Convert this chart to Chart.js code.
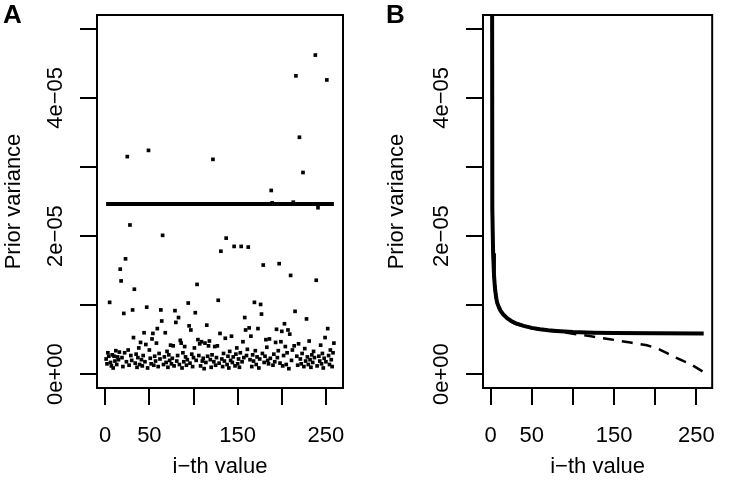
<!DOCTYPE html>
<html>
<head>
<meta charset="utf-8">
<title>Prior variance</title>
<script src="https://cdn.jsdelivr.net/npm/chart.js@4.4.1/dist/chart.umd.min.js"></script>
<style>
  html, body { margin: 0; padding: 0; background: #fff; }
  #wrap { position: relative; width: 733px; height: 481px; }
  #panelA { position: absolute; left: 0; top: 0; }
  #panelB { position: absolute; left: 386px; top: 0; }
</style>
</head>
<body>
<div id="wrap">
  <canvas id="panelA" width="386" height="481"></canvas>
  <canvas id="panelB" width="347" height="481"></canvas>
</div>
<script>
// all variances are in units of 1e-05

const xTicks = [0, 50, 100, 150, 200, 250];
const xTickLabels = ['0', '50', '', '150', '', '250'];
const yTicks = [0, 1, 2, 3, 4, 5];
const yTickLabels = ['0e+00', '', '2e\u221205', '', '4e\u221205', ''];

// panel A: prior variance of each of the 259 values
const priorA = [
  0.22, 0.15, 0.31, 0.26, 1.04, 0.17, 0.12, 0.28, 0.09, 0.26,
  0.19, 0.34, 0.14, 0.25, 0.21, 0.32, 1.52, 1.35, 0.24, 0.11,
  0.88, 0.31, 1.67, 0.18, 3.15, 0.35, 0.13, 2.16, 0.27, 0.20,
  0.93, 0.53, 1.23, 0.16, 0.29, 0.10, 0.24, 0.38, 0.14, 0.46,
  0.21, 0.12, 0.27, 0.60, 0.18, 0.43, 0.97, 0.09, 3.24, 0.35,
  0.23, 0.15, 0.51, 0.59, 0.13, 0.26, 0.19, 0.45, 0.66, 0.11,
  0.30, 0.22, 0.93, 0.77, 2.01, 0.14, 0.25, 0.60, 0.17, 0.33,
  0.10, 0.28, 0.20, 0.42, 0.15, 0.23, 0.41, 0.12, 0.92, 0.75,
  0.19, 0.27, 0.82, 0.14, 0.49, 0.45, 0.09, 0.31, 0.18, 0.40,
  0.25, 0.13, 0.21, 1.03, 0.70, 0.16, 0.64, 0.29, 0.11, 0.24,
  0.38, 0.89, 0.20, 1.30, 0.50, 0.27, 0.44, 0.12, 0.47, 0.19,
  0.23, 0.08, 0.45, 0.17, 0.71, 0.26, 0.41, 0.48, 0.21, 0.10,
  0.28, 3.11, 0.18, 0.40, 0.13, 0.24, 0.41, 1.07, 0.16, 0.59,
  1.78, 0.22, 0.11, 0.30, 0.19, 0.52, 1.97, 0.14, 0.26, 0.09,
  0.33, 0.20, 0.55, 0.17, 0.25, 1.85, 0.12, 0.29, 0.38, 0.15,
  0.22, 0.10, 0.31, 1.85, 0.18, 0.47, 0.24, 0.82, 0.64, 0.27,
  0.36, 1.84, 0.67, 0.21, 0.55, 0.11, 0.28, 0.19, 1.04, 0.34,
  0.14, 0.25, 0.66, 0.09, 0.22, 1.01, 0.87, 0.30, 1.58, 0.17,
  0.26, 0.50, 0.39, 0.20, 0.15, 0.51, 0.23, 2.66, 2.48, 0.13,
  0.29, 0.18, 0.46, 0.65, 0.24, 0.34, 1.60, 0.16, 0.47, 0.62,
  0.12, 0.27, 0.73, 0.40, 0.14, 0.31, 0.64, 0.08, 0.58, 1.43,
  0.20, 0.35, 2.49, 0.41, 0.91, 4.32, 0.26, 0.13, 0.44, 3.43,
  0.22, 0.15, 0.30, 2.92, 0.11, 0.37, 0.19, 0.80, 0.25, 0.14,
  0.48, 0.21, 0.10, 0.28, 0.17, 0.33, 0.24, 4.62, 1.36, 0.12,
  2.41, 0.26, 0.19, 0.42, 0.15, 0.30, 0.09, 0.23, 0.53, 0.18,
  4.26, 0.66, 0.27, 0.14, 0.35, 0.21, 0.11, 0.31, 0.45
];
const meanA = 2.465;

// panel B: solid and dashed curves (index, value)
const solidIdx = [1, 2, 3, 4, 5, 6, 7, 8, 10, 12, 15, 20, 25, 30, 40, 50, 60, 70, 80, 100, 125, 150, 200, 259];
const solidB = [15, 2.4, 1.75, 1.45, 1.28, 1.17, 1.09, 1.03, 0.97, 0.92, 0.87, 0.81, 0.77, 0.74, 0.70, 0.67, 0.65, 0.635, 0.625, 0.61, 0.60, 0.595, 0.592, 0.59];
const dashedIdx = [1, 2, 3, 4, 5, 6, 7, 8, 10, 12, 15, 20, 25, 30, 40, 50, 60, 70, 80, 90, 100, 120, 145, 170, 190, 205, 215, 225, 243, 259];
const dashedB = [15, 2.3, 1.65, 1.38, 1.22, 1.13, 1.06, 1.01, 0.95, 0.91, 0.86, 0.80, 0.76, 0.73, 0.69, 0.665, 0.645, 0.63, 0.62, 0.605, 0.585, 0.553, 0.506, 0.458, 0.419, 0.36, 0.30, 0.24, 0.145, 0.03];

const nValues = 259;
const xMin = 1 - 0.04 * (nValues - 1);
const xMax = nValues + 0.04 * (nValues - 1);
const FONT = '"Liberation Sans", Arial, Helvetica, sans-serif';

// frame around the plot region, like R's box()
const boxPlugin = {
  id: 'box',
  afterDatasetsDraw(chart) {
    const { ctx, chartArea: a } = chart;
    ctx.save();
    ctx.strokeStyle = '#000';
    ctx.lineWidth = 2;
    ctx.strokeRect(a.left, a.top, a.right - a.left, a.bottom - a.top);
    ctx.restore();
  }
};

function buildScales(yWidth) {
  return {
    x: {
      type: 'linear',
      min: xMin,
      max: xMax,
      afterBuildTicks: s => { s.ticks = xTicks.map(v => ({ value: v })); },
      afterFit: s => { s.height = 93; },
      border: { display: false },
      grid: { drawOnChartArea: false, drawTicks: true, tickLength: 17, lineWidth: 2, color: '#000' },
      ticks: {
        autoSkip: false, maxRotation: 0, padding: 18, color: '#000',
        font: { family: FONT, size: 22 },
        callback: (v, i) => xTickLabels[i]
      },
      title: {
        display: true, text: 'i\u2212th value', color: '#000',
        font: { family: FONT, size: 22 }, padding: { top: 0, bottom: 1 }
      }
    },
    y: {
      type: 'linear',
      min: -0.2,
      max: 5.2,
      afterBuildTicks: s => { s.ticks = yTicks.map(v => ({ value: v })); },
      afterFit: s => { s.width = yWidth; },
      border: { display: false },
      grid: { drawOnChartArea: false, drawTicks: true, tickLength: 17, lineWidth: 2, color: '#000' },
      ticks: {
        autoSkip: false, minRotation: 90, maxRotation: 90, crossAlign: 'center',
        padding: -7, color: '#000',
        font: { family: FONT, size: 22 },
        callback: (v, i) => yTickLabels[i]
      },
      title: {
        display: true, text: 'Prior variance', color: '#000',
        font: { family: FONT, size: 22 }, padding: { top: -2, bottom: 0 }
      }
    }
  };
}

function buildOptions(letter, padLeft, padRight, yWidth) {
  return {
    responsive: false,
    animation: false,
    events: [],
    layout: { padding: { left: padLeft, right: padRight, top: 0, bottom: 0 } },
    plugins: {
      legend: { display: false },
      tooltip: { enabled: false },
      title: {
        display: true, text: letter, align: 'start', color: '#000',
        font: { family: FONT, size: 26, weight: 'bold', lineHeight: 1.2 },
        padding: { top: 0, bottom: -16.2 }
      }
    },
    scales: buildScales(yWidth)
  };
}

new Chart(document.getElementById('panelA'), {
  type: 'scatter',
  data: {
    datasets: [
      {
        data: priorA.map((v, i) => ({ x: i + 1, y: v })),
        pointStyle: 'rect',
        pointRadius: 2.6,
        borderWidth: 0,
        backgroundColor: '#000'
      },
      {
        data: [{ x: 1, y: meanA }, { x: nValues, y: meanA }],
        showLine: true,
        pointRadius: 0,
        borderWidth: 4,
        borderColor: '#000'
      }
    ]
  },
  options: buildOptions('A', 3, 43, 94),
  plugins: [boxPlugin]
});

new Chart(document.getElementById('panelB'), {
  type: 'scatter',
  data: {
    datasets: [
      {
        data: solidB.map((v, i) => ({ x: solidIdx[i], y: v })),
        showLine: true,
        pointRadius: 0,
        borderWidth: 4,
        borderColor: '#000'
      },
      {
        data: dashedB.map((v, i) => ({ x: dashedIdx[i], y: v })),
        showLine: true,
        pointRadius: 0,
        borderWidth: 2.5,
        borderDash: [11, 8],
        borderColor: '#000'
      }
    ]
  },
  options: buildOptions('B', 0, 5, 97),
  plugins: [boxPlugin]
});
</script>
</body>
</html>
